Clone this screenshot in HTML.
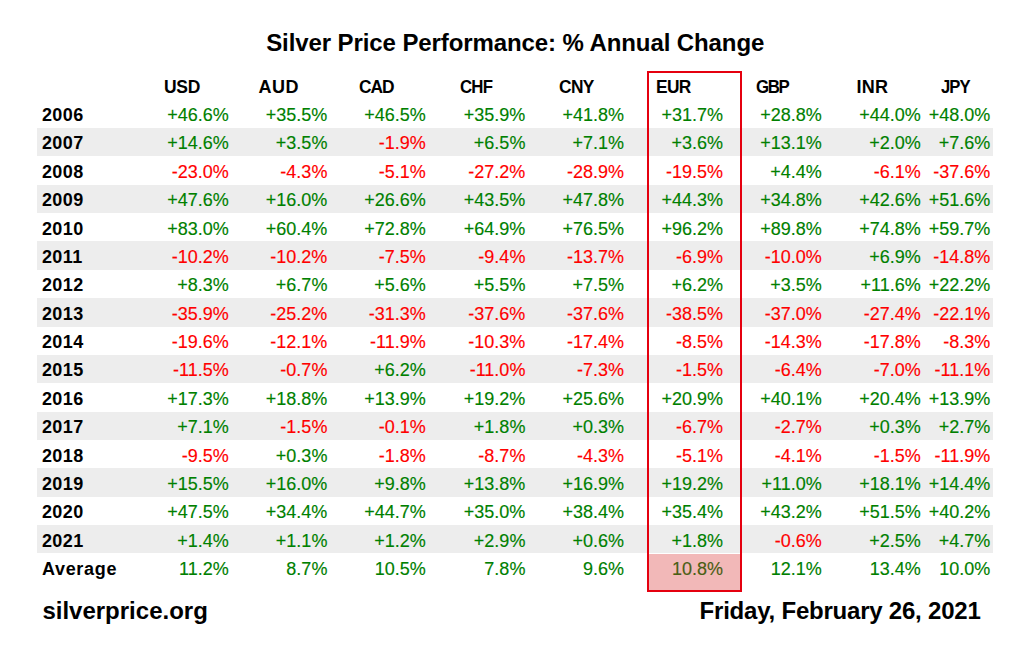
<!DOCTYPE html>
<html><head><meta charset="utf-8"><title>Silver Price Performance: % Annual Change</title>
<style>
html,body{margin:0;padding:0;background:#fff;}
body{width:1024px;height:655px;position:relative;overflow:hidden;font-family:"Liberation Sans",sans-serif;color:#000;}
.t{position:absolute;white-space:nowrap;line-height:18px;font-size:18px;}
.b{font-weight:bold;}
.v{text-align:right;width:90px;-webkit-text-stroke:0.15px currentColor;}
.g{color:#008000;}
.r{color:#ff0000;}
.band{position:absolute;left:37px;width:956px;background:#ededed;}
.big{font-size:24px;line-height:24px;font-weight:bold;}
</style></head><body>

<div class="band" style="top:128.00px;height:28.36px"></div>
<div class="band" style="top:184.72px;height:28.36px"></div>
<div class="band" style="top:241.44px;height:28.36px"></div>
<div class="band" style="top:298.16px;height:28.36px"></div>
<div class="band" style="top:354.88px;height:28.36px"></div>
<div class="band" style="top:411.60px;height:28.36px"></div>
<div class="band" style="top:468.32px;height:28.36px"></div>
<div class="band" style="top:525.04px;height:28.36px"></div>
<div style="position:absolute;left:649px;top:553.50px;width:91px;height:36.50px;background:#f2b8b8"></div>
<div style="position:absolute;left:647px;top:71px;width:91px;height:517px;border:2px solid #e5000f"></div>
<div class="t big" style="left:266.20px;top:31.00px;letter-spacing:-0.095px;">Silver Price Performance: % Annual Change</div>
<div class="t b" style="left:164.20px;top:78.46px;letter-spacing:-0.271px;transform:scaleX(0.9708);transform-origin:0 0;">USD</div>
<div class="t b" style="left:258.40px;top:78.46px;letter-spacing:0.600px;">AUD</div>
<div class="t b" style="left:359.00px;top:78.46px;letter-spacing:-1.127px;transform:scaleX(0.9637);transform-origin:0 0;">CAD</div>
<div class="t b" style="left:460.40px;top:78.46px;letter-spacing:-0.855px;transform:scaleX(0.9351);transform-origin:0 0;">CHF</div>
<div class="t b" style="left:558.60px;top:78.46px;letter-spacing:-0.627px;transform:scaleX(0.9637);transform-origin:0 0;">CNY</div>
<div class="t b" style="left:655.80px;top:78.46px;letter-spacing:-0.628px;transform:scaleX(0.9627);transform-origin:0 0;">EUR</div>
<div class="t b" style="left:755.80px;top:78.46px;letter-spacing:-1.427px;transform:scaleX(0.9353);transform-origin:0 0;">GBP</div>
<div class="t b" style="left:856.40px;top:78.46px;letter-spacing:0.300px;">INR</div>
<div class="t b" style="left:941.20px;top:78.46px;letter-spacing:-1.007px;transform:scaleX(0.9259);transform-origin:0 0;">JPY</div>
<div class="t b" style="left:41.90px;top:106.10px;letter-spacing:0.453px;">2006</div>
<div class="t v g" style="left:138.70px;top:106.10px;letter-spacing:0.000px;">+46.6%</div>
<div class="t v g" style="left:237.40px;top:106.10px;letter-spacing:0.000px;">+35.5%</div>
<div class="t v g" style="left:335.80px;top:106.10px;letter-spacing:0.000px;">+46.5%</div>
<div class="t v g" style="left:435.40px;top:106.10px;letter-spacing:0.000px;">+35.9%</div>
<div class="t v g" style="left:534.00px;top:106.10px;letter-spacing:0.000px;">+41.8%</div>
<div class="t v g" style="left:633.00px;top:106.10px;letter-spacing:0.000px;">+31.7%</div>
<div class="t v g" style="left:731.80px;top:106.10px;letter-spacing:0.000px;">+28.8%</div>
<div class="t v g" style="left:830.70px;top:106.10px;letter-spacing:0.000px;">+44.0%</div>
<div class="t v g" style="left:900.20px;top:106.10px;letter-spacing:0.000px;">+48.0%</div>
<div class="t b" style="left:41.90px;top:134.47px;letter-spacing:0.453px;">2007</div>
<div class="t v g" style="left:138.70px;top:134.47px;letter-spacing:0.000px;">+14.6%</div>
<div class="t v g" style="left:237.40px;top:134.47px;letter-spacing:0.000px;">+3.5%</div>
<div class="t v r" style="left:335.80px;top:134.47px;letter-spacing:0.000px;">-1.9%</div>
<div class="t v g" style="left:435.40px;top:134.47px;letter-spacing:0.000px;">+6.5%</div>
<div class="t v g" style="left:534.00px;top:134.47px;letter-spacing:0.000px;">+7.1%</div>
<div class="t v g" style="left:633.00px;top:134.47px;letter-spacing:0.000px;">+3.6%</div>
<div class="t v g" style="left:731.80px;top:134.47px;letter-spacing:0.000px;">+13.1%</div>
<div class="t v g" style="left:830.70px;top:134.47px;letter-spacing:0.000px;">+2.0%</div>
<div class="t v g" style="left:900.20px;top:134.47px;letter-spacing:0.000px;">+7.6%</div>
<div class="t b" style="left:41.90px;top:162.84px;letter-spacing:0.453px;">2008</div>
<div class="t v r" style="left:138.70px;top:162.84px;letter-spacing:0.000px;">-23.0%</div>
<div class="t v r" style="left:237.40px;top:162.84px;letter-spacing:0.000px;">-4.3%</div>
<div class="t v r" style="left:335.80px;top:162.84px;letter-spacing:0.000px;">-5.1%</div>
<div class="t v r" style="left:435.40px;top:162.84px;letter-spacing:0.000px;">-27.2%</div>
<div class="t v r" style="left:534.00px;top:162.84px;letter-spacing:0.000px;">-28.9%</div>
<div class="t v r" style="left:633.00px;top:162.84px;letter-spacing:0.000px;">-19.5%</div>
<div class="t v g" style="left:731.80px;top:162.84px;letter-spacing:0.000px;">+4.4%</div>
<div class="t v r" style="left:830.70px;top:162.84px;letter-spacing:0.000px;">-6.1%</div>
<div class="t v r" style="left:900.20px;top:162.84px;letter-spacing:0.000px;">-37.6%</div>
<div class="t b" style="left:41.90px;top:191.21px;letter-spacing:0.453px;">2009</div>
<div class="t v g" style="left:138.70px;top:191.21px;letter-spacing:0.000px;">+47.6%</div>
<div class="t v g" style="left:237.40px;top:191.21px;letter-spacing:0.000px;">+16.0%</div>
<div class="t v g" style="left:335.80px;top:191.21px;letter-spacing:0.000px;">+26.6%</div>
<div class="t v g" style="left:435.40px;top:191.21px;letter-spacing:0.000px;">+43.5%</div>
<div class="t v g" style="left:534.00px;top:191.21px;letter-spacing:0.000px;">+47.8%</div>
<div class="t v g" style="left:633.00px;top:191.21px;letter-spacing:0.000px;">+44.3%</div>
<div class="t v g" style="left:731.80px;top:191.21px;letter-spacing:0.000px;">+34.8%</div>
<div class="t v g" style="left:830.70px;top:191.21px;letter-spacing:0.000px;">+42.6%</div>
<div class="t v g" style="left:900.20px;top:191.21px;letter-spacing:0.000px;">+51.6%</div>
<div class="t b" style="left:41.90px;top:219.58px;letter-spacing:0.453px;">2010</div>
<div class="t v g" style="left:138.70px;top:219.58px;letter-spacing:0.000px;">+83.0%</div>
<div class="t v g" style="left:237.40px;top:219.58px;letter-spacing:0.000px;">+60.4%</div>
<div class="t v g" style="left:335.80px;top:219.58px;letter-spacing:0.000px;">+72.8%</div>
<div class="t v g" style="left:435.40px;top:219.58px;letter-spacing:0.000px;">+64.9%</div>
<div class="t v g" style="left:534.00px;top:219.58px;letter-spacing:0.000px;">+76.5%</div>
<div class="t v g" style="left:633.00px;top:219.58px;letter-spacing:0.000px;">+96.2%</div>
<div class="t v g" style="left:731.80px;top:219.58px;letter-spacing:0.000px;">+89.8%</div>
<div class="t v g" style="left:830.70px;top:219.58px;letter-spacing:0.000px;">+74.8%</div>
<div class="t v g" style="left:900.20px;top:219.58px;letter-spacing:0.000px;">+59.7%</div>
<div class="t b" style="left:41.90px;top:247.95px;letter-spacing:0.453px;">2011</div>
<div class="t v r" style="left:138.70px;top:247.95px;letter-spacing:0.000px;">-10.2%</div>
<div class="t v r" style="left:237.40px;top:247.95px;letter-spacing:0.000px;">-10.2%</div>
<div class="t v r" style="left:335.80px;top:247.95px;letter-spacing:0.000px;">-7.5%</div>
<div class="t v r" style="left:435.40px;top:247.95px;letter-spacing:0.000px;">-9.4%</div>
<div class="t v r" style="left:534.00px;top:247.95px;letter-spacing:0.000px;">-13.7%</div>
<div class="t v r" style="left:633.00px;top:247.95px;letter-spacing:0.000px;">-6.9%</div>
<div class="t v r" style="left:731.80px;top:247.95px;letter-spacing:0.000px;">-10.0%</div>
<div class="t v g" style="left:830.70px;top:247.95px;letter-spacing:0.000px;">+6.9%</div>
<div class="t v r" style="left:900.20px;top:247.95px;letter-spacing:0.000px;">-14.8%</div>
<div class="t b" style="left:41.90px;top:276.32px;letter-spacing:0.453px;">2012</div>
<div class="t v g" style="left:138.70px;top:276.32px;letter-spacing:0.000px;">+8.3%</div>
<div class="t v g" style="left:237.40px;top:276.32px;letter-spacing:0.000px;">+6.7%</div>
<div class="t v g" style="left:335.80px;top:276.32px;letter-spacing:0.000px;">+5.6%</div>
<div class="t v g" style="left:435.40px;top:276.32px;letter-spacing:0.000px;">+5.5%</div>
<div class="t v g" style="left:534.00px;top:276.32px;letter-spacing:0.000px;">+7.5%</div>
<div class="t v g" style="left:633.00px;top:276.32px;letter-spacing:0.000px;">+6.2%</div>
<div class="t v g" style="left:731.80px;top:276.32px;letter-spacing:0.000px;">+3.5%</div>
<div class="t v g" style="left:830.70px;top:276.32px;letter-spacing:0.000px;">+11.6%</div>
<div class="t v g" style="left:900.20px;top:276.32px;letter-spacing:0.000px;">+22.2%</div>
<div class="t b" style="left:41.90px;top:304.69px;letter-spacing:0.453px;">2013</div>
<div class="t v r" style="left:138.70px;top:304.69px;letter-spacing:0.000px;">-35.9%</div>
<div class="t v r" style="left:237.40px;top:304.69px;letter-spacing:0.000px;">-25.2%</div>
<div class="t v r" style="left:335.80px;top:304.69px;letter-spacing:0.000px;">-31.3%</div>
<div class="t v r" style="left:435.40px;top:304.69px;letter-spacing:0.000px;">-37.6%</div>
<div class="t v r" style="left:534.00px;top:304.69px;letter-spacing:0.000px;">-37.6%</div>
<div class="t v r" style="left:633.00px;top:304.69px;letter-spacing:0.000px;">-38.5%</div>
<div class="t v r" style="left:731.80px;top:304.69px;letter-spacing:0.000px;">-37.0%</div>
<div class="t v r" style="left:830.70px;top:304.69px;letter-spacing:0.000px;">-27.4%</div>
<div class="t v r" style="left:900.20px;top:304.69px;letter-spacing:0.000px;">-22.1%</div>
<div class="t b" style="left:41.90px;top:333.06px;letter-spacing:0.453px;">2014</div>
<div class="t v r" style="left:138.70px;top:333.06px;letter-spacing:0.000px;">-19.6%</div>
<div class="t v r" style="left:237.40px;top:333.06px;letter-spacing:0.000px;">-12.1%</div>
<div class="t v r" style="left:335.80px;top:333.06px;letter-spacing:0.000px;">-11.9%</div>
<div class="t v r" style="left:435.40px;top:333.06px;letter-spacing:0.000px;">-10.3%</div>
<div class="t v r" style="left:534.00px;top:333.06px;letter-spacing:0.000px;">-17.4%</div>
<div class="t v r" style="left:633.00px;top:333.06px;letter-spacing:0.000px;">-8.5%</div>
<div class="t v r" style="left:731.80px;top:333.06px;letter-spacing:0.000px;">-14.3%</div>
<div class="t v r" style="left:830.70px;top:333.06px;letter-spacing:0.000px;">-17.8%</div>
<div class="t v r" style="left:900.20px;top:333.06px;letter-spacing:0.000px;">-8.3%</div>
<div class="t b" style="left:41.90px;top:361.43px;letter-spacing:0.453px;">2015</div>
<div class="t v r" style="left:138.70px;top:361.43px;letter-spacing:0.000px;">-11.5%</div>
<div class="t v r" style="left:237.40px;top:361.43px;letter-spacing:0.000px;">-0.7%</div>
<div class="t v g" style="left:335.80px;top:361.43px;letter-spacing:0.000px;">+6.2%</div>
<div class="t v r" style="left:435.40px;top:361.43px;letter-spacing:0.000px;">-11.0%</div>
<div class="t v r" style="left:534.00px;top:361.43px;letter-spacing:0.000px;">-7.3%</div>
<div class="t v r" style="left:633.00px;top:361.43px;letter-spacing:0.000px;">-1.5%</div>
<div class="t v r" style="left:731.80px;top:361.43px;letter-spacing:0.000px;">-6.4%</div>
<div class="t v r" style="left:830.70px;top:361.43px;letter-spacing:0.000px;">-7.0%</div>
<div class="t v r" style="left:900.20px;top:361.43px;letter-spacing:0.000px;">-11.1%</div>
<div class="t b" style="left:41.90px;top:389.80px;letter-spacing:0.453px;">2016</div>
<div class="t v g" style="left:138.70px;top:389.80px;letter-spacing:0.000px;">+17.3%</div>
<div class="t v g" style="left:237.40px;top:389.80px;letter-spacing:0.000px;">+18.8%</div>
<div class="t v g" style="left:335.80px;top:389.80px;letter-spacing:0.000px;">+13.9%</div>
<div class="t v g" style="left:435.40px;top:389.80px;letter-spacing:0.000px;">+19.2%</div>
<div class="t v g" style="left:534.00px;top:389.80px;letter-spacing:0.000px;">+25.6%</div>
<div class="t v g" style="left:633.00px;top:389.80px;letter-spacing:0.000px;">+20.9%</div>
<div class="t v g" style="left:731.80px;top:389.80px;letter-spacing:0.000px;">+40.1%</div>
<div class="t v g" style="left:830.70px;top:389.80px;letter-spacing:0.000px;">+20.4%</div>
<div class="t v g" style="left:900.20px;top:389.80px;letter-spacing:0.000px;">+13.9%</div>
<div class="t b" style="left:41.90px;top:418.17px;letter-spacing:0.453px;">2017</div>
<div class="t v g" style="left:138.70px;top:418.17px;letter-spacing:0.000px;">+7.1%</div>
<div class="t v r" style="left:237.40px;top:418.17px;letter-spacing:0.000px;">-1.5%</div>
<div class="t v r" style="left:335.80px;top:418.17px;letter-spacing:0.000px;">-0.1%</div>
<div class="t v g" style="left:435.40px;top:418.17px;letter-spacing:0.000px;">+1.8%</div>
<div class="t v g" style="left:534.00px;top:418.17px;letter-spacing:0.000px;">+0.3%</div>
<div class="t v r" style="left:633.00px;top:418.17px;letter-spacing:0.000px;">-6.7%</div>
<div class="t v r" style="left:731.80px;top:418.17px;letter-spacing:0.000px;">-2.7%</div>
<div class="t v g" style="left:830.70px;top:418.17px;letter-spacing:0.000px;">+0.3%</div>
<div class="t v g" style="left:900.20px;top:418.17px;letter-spacing:0.000px;">+2.7%</div>
<div class="t b" style="left:41.90px;top:446.54px;letter-spacing:0.453px;">2018</div>
<div class="t v r" style="left:138.70px;top:446.54px;letter-spacing:0.000px;">-9.5%</div>
<div class="t v g" style="left:237.40px;top:446.54px;letter-spacing:0.000px;">+0.3%</div>
<div class="t v r" style="left:335.80px;top:446.54px;letter-spacing:0.000px;">-1.8%</div>
<div class="t v r" style="left:435.40px;top:446.54px;letter-spacing:0.000px;">-8.7%</div>
<div class="t v r" style="left:534.00px;top:446.54px;letter-spacing:0.000px;">-4.3%</div>
<div class="t v r" style="left:633.00px;top:446.54px;letter-spacing:0.000px;">-5.1%</div>
<div class="t v r" style="left:731.80px;top:446.54px;letter-spacing:0.000px;">-4.1%</div>
<div class="t v r" style="left:830.70px;top:446.54px;letter-spacing:0.000px;">-1.5%</div>
<div class="t v r" style="left:900.20px;top:446.54px;letter-spacing:0.000px;">-11.9%</div>
<div class="t b" style="left:41.90px;top:474.91px;letter-spacing:0.453px;">2019</div>
<div class="t v g" style="left:138.70px;top:474.91px;letter-spacing:0.000px;">+15.5%</div>
<div class="t v g" style="left:237.40px;top:474.91px;letter-spacing:0.000px;">+16.0%</div>
<div class="t v g" style="left:335.80px;top:474.91px;letter-spacing:0.000px;">+9.8%</div>
<div class="t v g" style="left:435.40px;top:474.91px;letter-spacing:0.000px;">+13.8%</div>
<div class="t v g" style="left:534.00px;top:474.91px;letter-spacing:0.000px;">+16.9%</div>
<div class="t v g" style="left:633.00px;top:474.91px;letter-spacing:0.000px;">+19.2%</div>
<div class="t v g" style="left:731.80px;top:474.91px;letter-spacing:0.000px;">+11.0%</div>
<div class="t v g" style="left:830.70px;top:474.91px;letter-spacing:0.000px;">+18.1%</div>
<div class="t v g" style="left:900.20px;top:474.91px;letter-spacing:0.000px;">+14.4%</div>
<div class="t b" style="left:41.90px;top:503.28px;letter-spacing:0.453px;">2020</div>
<div class="t v g" style="left:138.70px;top:503.28px;letter-spacing:0.000px;">+47.5%</div>
<div class="t v g" style="left:237.40px;top:503.28px;letter-spacing:0.000px;">+34.4%</div>
<div class="t v g" style="left:335.80px;top:503.28px;letter-spacing:0.000px;">+44.7%</div>
<div class="t v g" style="left:435.40px;top:503.28px;letter-spacing:0.000px;">+35.0%</div>
<div class="t v g" style="left:534.00px;top:503.28px;letter-spacing:0.000px;">+38.4%</div>
<div class="t v g" style="left:633.00px;top:503.28px;letter-spacing:0.000px;">+35.4%</div>
<div class="t v g" style="left:731.80px;top:503.28px;letter-spacing:0.000px;">+43.2%</div>
<div class="t v g" style="left:830.70px;top:503.28px;letter-spacing:0.000px;">+51.5%</div>
<div class="t v g" style="left:900.20px;top:503.28px;letter-spacing:0.000px;">+40.2%</div>
<div class="t b" style="left:41.90px;top:531.65px;letter-spacing:0.453px;">2021</div>
<div class="t v g" style="left:138.70px;top:531.65px;letter-spacing:0.000px;">+1.4%</div>
<div class="t v g" style="left:237.40px;top:531.65px;letter-spacing:0.000px;">+1.1%</div>
<div class="t v g" style="left:335.80px;top:531.65px;letter-spacing:0.000px;">+1.2%</div>
<div class="t v g" style="left:435.40px;top:531.65px;letter-spacing:0.000px;">+2.9%</div>
<div class="t v g" style="left:534.00px;top:531.65px;letter-spacing:0.000px;">+0.6%</div>
<div class="t v g" style="left:633.00px;top:531.65px;letter-spacing:0.000px;">+1.8%</div>
<div class="t v r" style="left:731.80px;top:531.65px;letter-spacing:0.000px;">-0.6%</div>
<div class="t v g" style="left:830.70px;top:531.65px;letter-spacing:0.000px;">+2.5%</div>
<div class="t v g" style="left:900.20px;top:531.65px;letter-spacing:0.000px;">+4.7%</div>
<div class="t b" style="left:41.90px;top:560.02px;letter-spacing:0.700px;">Average</div>
<div class="t v g" style="left:138.70px;top:560.02px;letter-spacing:0.000px;">11.2%</div>
<div class="t v g" style="left:237.40px;top:560.02px;letter-spacing:0.000px;">8.7%</div>
<div class="t v g" style="left:335.80px;top:560.02px;letter-spacing:0.000px;">10.5%</div>
<div class="t v g" style="left:435.40px;top:560.02px;letter-spacing:0.000px;">7.8%</div>
<div class="t v g" style="left:534.00px;top:560.02px;letter-spacing:0.000px;">9.6%</div>
<div class="t v " style="left:633.00px;top:560.02px;letter-spacing:0.000px;color:#4a5e14;">10.8%</div>
<div class="t v g" style="left:731.80px;top:560.02px;letter-spacing:0.000px;">12.1%</div>
<div class="t v g" style="left:830.70px;top:560.02px;letter-spacing:0.000px;">13.4%</div>
<div class="t v g" style="left:900.20px;top:560.02px;letter-spacing:0.000px;">10.0%</div>
<div class="t big" style="left:42.40px;top:599.00px;letter-spacing:-0.000px;">silverprice.org</div>
<div class="t big" style="left:699.60px;top:599.00px;letter-spacing:-0.217px;">Friday, February 26, 2021</div>
</body></html>
